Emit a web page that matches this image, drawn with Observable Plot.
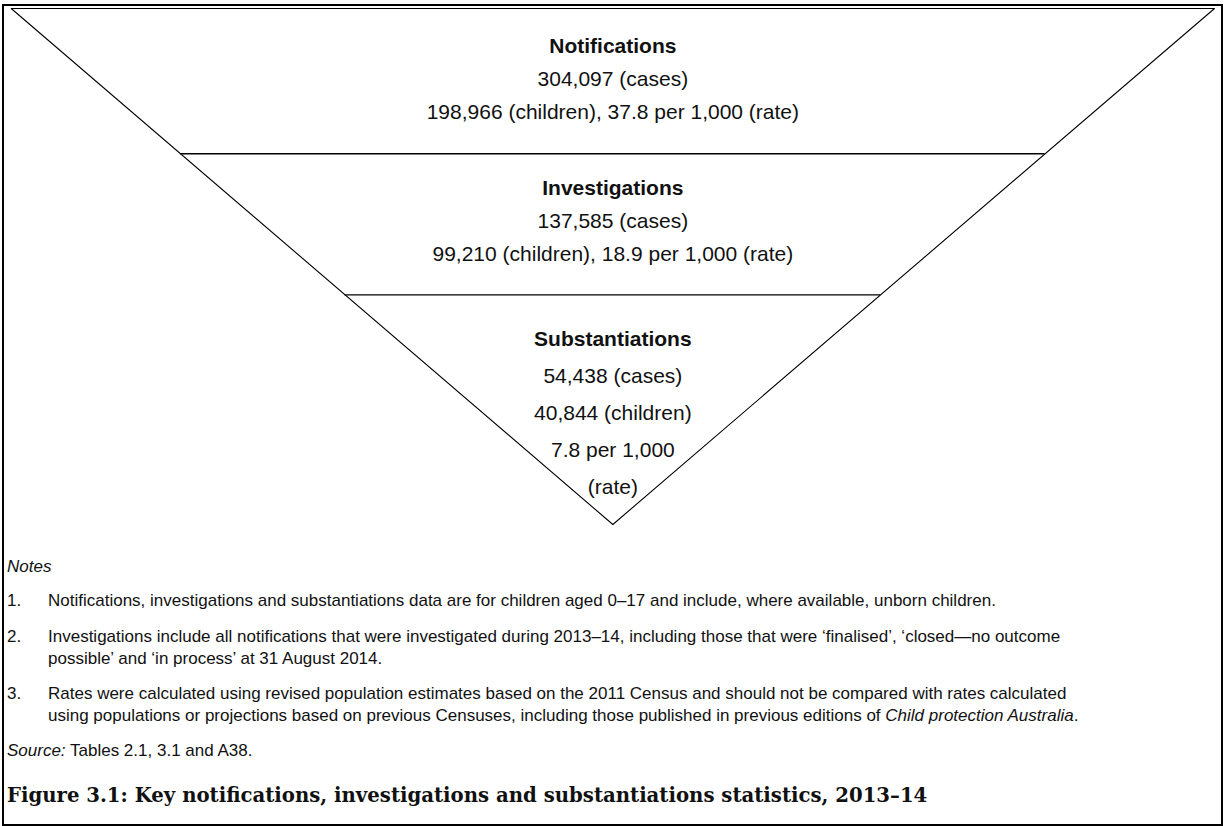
<!DOCTYPE html>
<html>
<head>
<meta charset="utf-8">
<script src="https://cdn.jsdelivr.net/npm/d3@7"></script>
<script src="https://cdn.jsdelivr.net/npm/@observablehq/plot@0.6"></script>
<style>
  html, body { margin: 0; padding: 0; background: #fff; }
  body { width: 1224px; height: 826px; position: relative; overflow: hidden;
         font-family: "Liberation Sans", Arial, sans-serif; color: #000; }
  #frame { position: absolute; left: 2px; top: 4px; width: 1221px; height: 822px;
           border: 2px solid #000; box-sizing: border-box; }
  #chart { position: absolute; left: 0; top: 0; }
  .note { position: absolute; left: 3px; font-size: 17px; line-height: 22px; white-space: nowrap; color: #111; }
  .note .num { position: absolute; left: 0; }
  .note .txt { position: absolute; left: 41px; }
  #fig { position: absolute; left: 3px; font-family: "DejaVu Serif", "Liberation Serif", serif;
         font-weight: bold; font-size: 19.7px; line-height: 30px; white-space: nowrap; color: #111; }
</style>
</head>
<body>
<div id="frame">
  <div id="chart"></div>
  <div class="note" style="top:550px"><i>Notes</i></div>
  <div class="note" id="n1" style="top:584px"></div>
  <div class="note" id="n2" style="top:620px"></div>
  <div class="note" id="n3" style="top:677px"></div>
  <div class="note" style="top:734px"><i>Source:</i> Tables 2.1, 3.1 and A38.</div>
  <div id="fig" style="top:775px"></div>
</div>
<script>
// ---- data ----
const stages = ["Notifications", "Investigations", "Substantiations"];
const cases = [304097, 137585, 54438];
const children = [198966, 99210, 40844];
const rates = [37.8, 18.9, 7.8];
const notes = [
  "Notifications, investigations and substantiations data are for children aged 0–17 and include, where available, unborn children.",
  "Investigations include all notifications that were investigated during 2013–14, including those that were ‘finalised’, ‘closed—no outcome<br>possible’ and ‘in process’ at 31 August 2014.",
  "Rates were calculated using revised population estimates based on the 2011 Census and should not be compared with rates calculated<br>using populations or projections based on previous Censuses, including those published in previous editions of <i>Child protection Australia</i>."
];
const figureTitle = "Figure 3.1: Key notifications, investigations and substantiations statistics, 2013–14";

// ---- layout (funnel geometry in depth units 0 = top edge, 1 = apex) ----
const dividers = [0.2816, 0.555];          // depth of the band boundaries
const bandTops = [0, ...dividers];
const pxPerDepth = 516;                     // pixels between top edge and apex
const firstOffset = [38, 34, 44];           // px from band top to first text line
const lineStep = [33, 33, 37];              // px between text lines

const fmt = d3.format(",");
const lines = [];
stages.forEach((s, i) => {
  const t = [s, `${fmt(cases[i])} (cases)`];
  if (i < 2) t.push(`${fmt(children[i])} (children), ${rates[i]} per 1,000 (rate)`);
  else t.push(`${fmt(children[i])} (children)`, `${rates[i]} per 1,000`, "(rate)");
  t.forEach((text, j) => lines.push({
    text, bold: j === 0,
    depth: bandTops[i] + (firstOffset[i] + j * lineStep[i]) / pxPerDepth
  }));
});

const outline = [{x: -1, y: 0}, {x: 1, y: 0}, {x: 0, y: 1}, {x: -1, y: 0}];

const chart = Plot.plot({
  width: 1217, height: 540,
  margin: 0,
  x: {domain: [-1, 1], range: [6.7, 1210], axis: null},
  y: {domain: [0, 1], range: [2, 518], axis: null},
  style: {background: "#fff", fontFamily: "'Liberation Sans', Arial, sans-serif", overflow: "visible"},
  marks: [
    Plot.line(outline, {x: "x", y: "y", stroke: "#000", strokeWidth: 1.1}),
    Plot.ruleY(dividers, {y: d => d, x1: d => -(1 - d), x2: d => 1 - d, stroke: "#000", strokeWidth: 1.4}),
    Plot.text(lines.filter(d => d.bold), {x: 0, y: "depth", text: "text", fontSize: 21, fontWeight: "bold", fill: "#111"}),
    Plot.text(lines.filter(d => !d.bold), {x: 0, y: "depth", text: "text", fontSize: 21, fill: "#111"})
  ]
});
document.getElementById("chart").appendChild(chart);

["n1", "n2", "n3"].forEach((id, i) => {
  document.getElementById(id).innerHTML = `<span class="num">${i + 1}.</span><span class="txt">${notes[i]}</span>`;
});
document.getElementById("fig").textContent = figureTitle;
</script>
</body>
</html>
